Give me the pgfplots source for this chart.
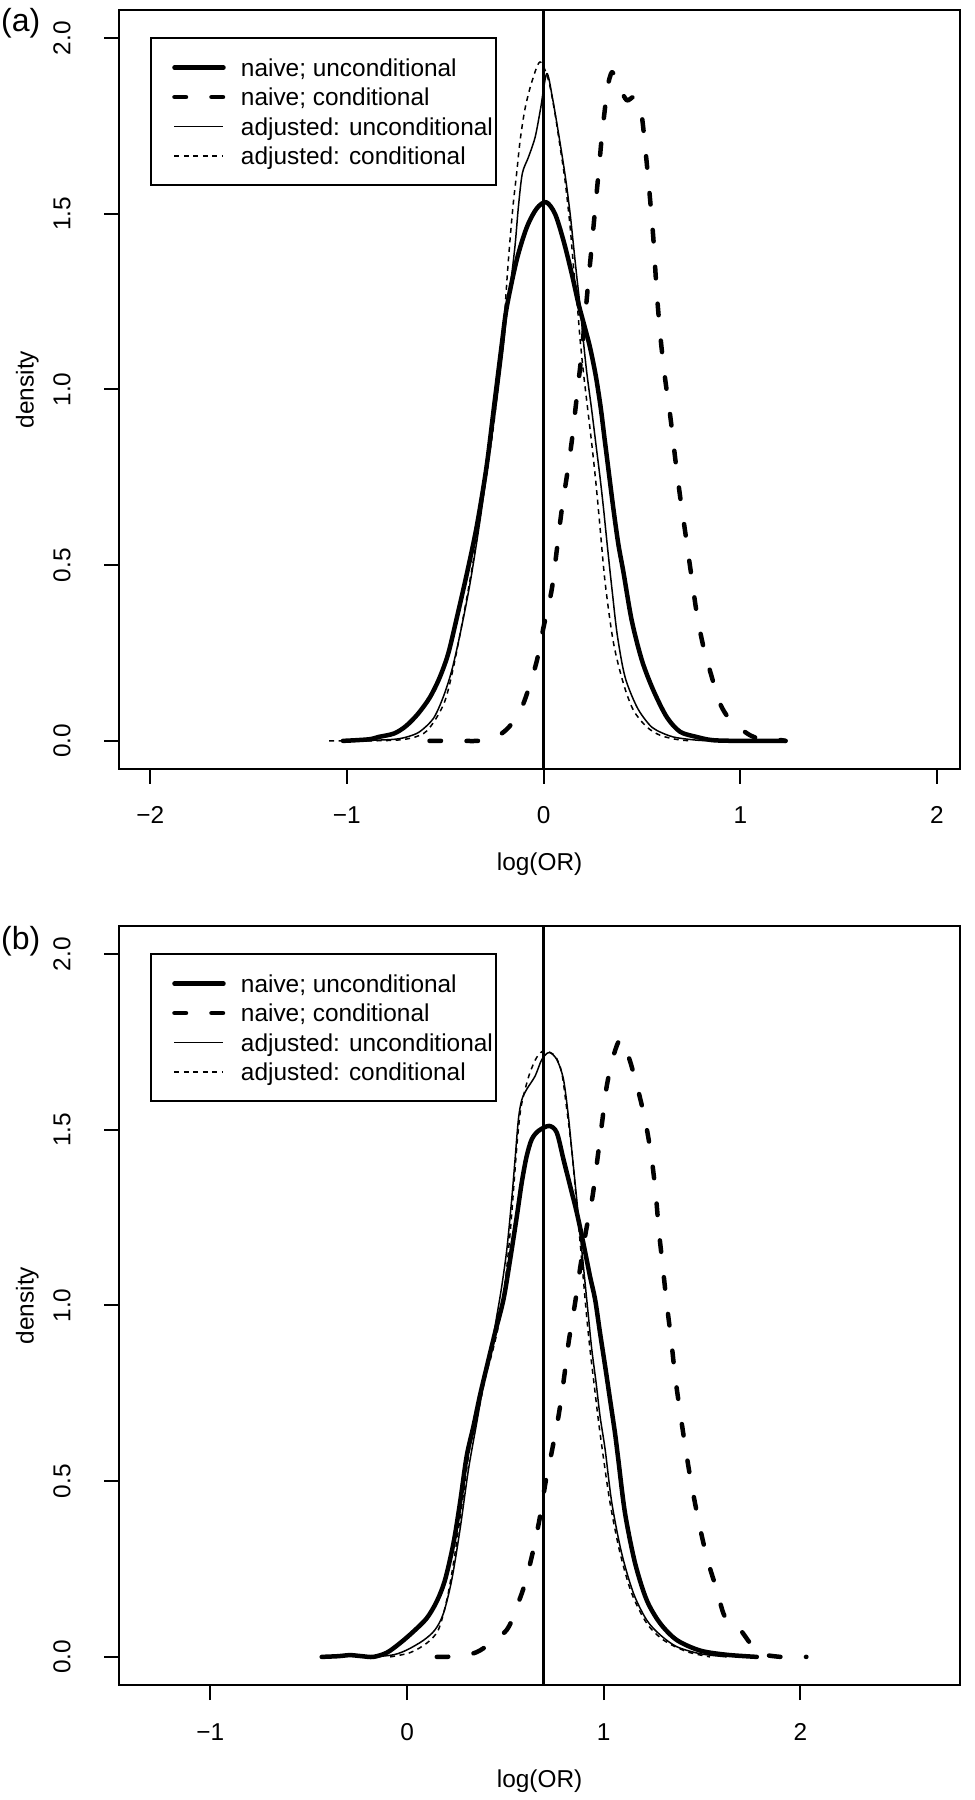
\documentclass[border=0pt]{standalone}
\usepackage{pgfplots}
\pgfplotsset{compat=1.18}
\usepackage{fontspec}
\setmainfont{Liberation Sans}
\newcommand{\lblfont}{\fontsize{24.4bp}{29.5bp}\selectfont}
\pgfplotsset{
  myaxis/.style={
    anchor=south west, scale only axis, width=840.7bp, height=759bp,
    ymin=-0.08, ymax=2.08,
    ytick={0,0.5,1,1.5,2}, yticklabels={0.0,0.5,1.0,1.5,2.0},
    tick align=outside, tick pos=left,
    major tick length=15bp,
    every tick/.style={line width=2bp, black},
    axis line style={line width=2bp, black},
    tick label style={font=\lblfont},
    xticklabel style={anchor=base, inner sep=0pt, yshift=-40bp},
    yticklabel style={xshift=-34bp, rotate=90, anchor=base, inner sep=0pt},
    xlabel={log(OR)}, ylabel={density},
    every axis x label/.style={at={(axis description cs:0.5,0)}, yshift=-102bp, anchor=base, inner sep=0pt, font=\lblfont},
    every axis y label/.style={at={(axis description cs:0,0.5)}, xshift=-85.7bp, rotate=90, anchor=base, inner sep=0pt, font=\lblfont},
    legend style={at={(0.0377,0.9627)}, anchor=north west, draw=black, line width=2bp,
      inner xsep=3bp, inner ysep=20.5bp, outer sep=0pt, row sep=12bp, column sep=15bp,
      nodes={inner sep=0pt, text height=17.5bp, text depth=0pt}, font=\lblfont},
    legend cell align=left,
    legend image code/.code={\path[draw=none, fill=none] (0bp,-1bp) rectangle (72bp,1bp); \draw[##1] (20.5bp,0bp) -- (69.5bp,0bp);},
  },
  thicksolid/.style={black, line width=4.5bp, line cap=round, line join=round, smooth, tension=0.5},
  thickdash/.style={black, line width=4.5bp, line cap=round, line join=round, dash pattern=on 11.5bp off 25.5bp, smooth, tension=0.5},
  thinsolid/.style={black, line width=1.5bp, line join=round, smooth, tension=0.5},
  thindash/.style={black, line width=1.5bp, dash pattern=on 5bp off 4.5bp, smooth, tension=0.5},
}
\begin{document}
\begin{tikzpicture}
\useasboundingbox (0,0) rectangle (975bp,1800bp);
% ---------------- panel (a) ----------------
\begin{axis}[myaxis, at={(119.3bp,1031bp)}, xmin=-2.157, xmax=2.117,
  xtick={-2,-1,0,1,2}, xticklabels={−2,−1,0,1,2}]
\addplot[thicksolid] coordinates {
(-1.02,0) (-0.95,0.002) (-0.88,0.005) (-0.84,0.011) (-0.76,0.021) (-0.70,0.042)
(-0.64,0.076) (-0.58,0.122) (-0.53,0.178) (-0.485,0.248) (-0.44,0.353) (-0.39,0.476)
(-0.34,0.61) (-0.29,0.78) (-0.25,0.96) (-0.21,1.14) (-0.187,1.235) (-0.136,1.37)
(-0.085,1.462) (-0.035,1.515) (0.013,1.533) (0.058,1.50) (0.101,1.424) (0.143,1.33)
(0.177,1.245) (0.208,1.18) (0.236,1.12) (0.265,1.04) (0.29,0.95) (0.31,0.86)
(0.328,0.78) (0.355,0.66) (0.38,0.56) (0.406,0.48) (0.448,0.343) (0.50,0.229)
(0.558,0.144) (0.626,0.068) (0.694,0.026) (0.78,0.011) (0.86,0.002) (1.0,0.0) (1.23,0.0)};
\addlegendentry{naive; unconditional}
\addplot[thickdash] coordinates {
(-0.58,0) (-0.45,0) (-0.33,0.0) (-0.27,0.006) (-0.213,0.021) (-0.162,0.049)
(-0.103,0.106) (-0.052,0.192) (-0.026,0.248) (0.0,0.324) (0.041,0.429) (0.067,0.542)
(0.092,0.656) (0.12,0.76) (0.145,0.86) (0.166,0.965) (0.19,1.085) (0.21,1.2)
(0.228,1.31) (0.245,1.41) (0.263,1.52) (0.28,1.62) (0.296,1.72) (0.31,1.79)
(0.325,1.86) (0.347,1.903) (0.37,1.88) (0.389,1.856) (0.423,1.823) (0.457,1.832)
(0.48,1.81) (0.499,1.78) (0.52,1.67) (0.54,1.55) (0.558,1.43) (0.575,1.28)
(0.595,1.145) (0.618,1.03) (0.645,0.92) (0.67,0.80) (0.693,0.70) (0.711,0.63)
(0.745,0.495) (0.779,0.362) (0.813,0.267) (0.855,0.182) (0.897,0.106) (0.948,0.059)
(1.0,0.035) (1.05,0.016) (1.1,0.006) (1.16,0.006) (1.23,0.0)};
\addlegendentry{naive; conditional}
\addplot[thinsolid] coordinates {
(-1.0,0) (-0.85,0.002) (-0.75,0.005) (-0.69,0.012) (-0.63,0.026) (-0.56,0.064)
(-0.51,0.125) (-0.467,0.2) (-0.424,0.305) (-0.374,0.448) (-0.323,0.628) (-0.28,0.80)
(-0.238,0.97) (-0.205,1.12) (-0.187,1.22) (-0.168,1.30) (-0.145,1.41) (-0.128,1.52)
(-0.108,1.615) (-0.077,1.661) (-0.043,1.718) (-0.015,1.80) (0.016,1.899) (0.045,1.83)
(0.08,1.715) (0.112,1.60) (0.135,1.50) (0.152,1.41) (0.169,1.32) (0.186,1.235)
(0.202,1.14) (0.22,1.046) (0.245,0.94) (0.267,0.84) (0.287,0.75) (0.305,0.66)
(0.325,0.55) (0.35,0.42) (0.375,0.30) (0.414,0.182) (0.474,0.097) (0.533,0.049)
(0.575,0.03) (0.66,0.011) (0.78,0.002) (0.87,0.0)};
\addlegendentry{adjusted: unconditional}
\addplot[thindash] coordinates {
(-1.09,0) (-0.88,0.0) (-0.71,0.004) (-0.61,0.021) (-0.552,0.059) (-0.5,0.116)
(-0.458,0.21) (-0.408,0.353) (-0.357,0.514) (-0.306,0.70) (-0.255,0.893) (-0.225,1.05)
(-0.2,1.20) (-0.184,1.33) (-0.17,1.43) (-0.154,1.53) (-0.136,1.62) (-0.119,1.71)
(-0.094,1.80) (-0.06,1.875) (-0.018,1.932) (0.025,1.88) (0.058,1.785) (0.084,1.69)
(0.109,1.595) (0.135,1.462) (0.155,1.33) (0.172,1.235) (0.186,1.14) (0.203,1.046)
(0.223,0.95) (0.245,0.845) (0.265,0.74) (0.285,0.62) (0.313,0.45) (0.355,0.28)
(0.406,0.163) (0.457,0.087) (0.524,0.04) (0.592,0.016) (0.677,0.004) (0.75,0.0)};
\addlegendentry{adjusted: conditional}
\addplot[black, line width=3.3bp, forget plot] coordinates {(0,-0.08) (0,2.08)};
\end{axis}
% ---------------- panel (b) ----------------
\begin{axis}[myaxis, at={(119.3bp,115bp)}, xmin=-1.463, xmax=2.811,
  xtick={-1,0,1,2}, xticklabels={−1,0,1,2}]
\addplot[thicksolid] coordinates {
(-0.434,0) (-0.35,0.002) (-0.29,0.005) (-0.23,0.002) (-0.171,0.0) (-0.103,0.012)
(-0.036,0.039) (0.032,0.072) (0.1,0.11) (0.151,0.158) (0.193,0.219) (0.236,0.324)
(0.269,0.438) (0.303,0.571) (0.337,0.655) (0.371,0.745) (0.405,0.825) (0.447,0.922)
(0.49,1.017) (0.524,1.131) (0.558,1.254) (0.583,1.35) (0.608,1.425) (0.634,1.473)
(0.668,1.497) (0.722,1.511) (0.761,1.492) (0.795,1.416) (0.829,1.34) (0.863,1.264)
(0.896,1.178) (0.93,1.083) (0.956,1.017) (0.981,0.922) (1.007,0.827) (1.032,0.732)
(1.057,0.637) (1.074,0.561) (1.108,0.409) (1.159,0.267) (1.218,0.162) (1.286,0.096)
(1.371,0.048) (1.49,0.018) (1.625,0.006) (1.778,0.0)};
\addlegendentry{naive; unconditional}
\addplot[thickdash] coordinates {
(0.151,0) (0.227,0.001) (0.337,0.01) (0.405,0.031) (0.507,0.077) (0.558,0.143)
(0.6,0.21) (0.642,0.305) (0.676,0.40) (0.705,0.50) (0.736,0.585) (0.771,0.689)
(0.798,0.794) (0.822,0.898) (0.853,1.003) (0.88,1.107) (0.909,1.21) (0.943,1.311)
(0.968,1.418) (0.993,1.528) (1.015,1.624) (1.049,1.71) (1.086,1.758) (1.125,1.71)
(1.168,1.627) (1.21,1.528) (1.242,1.424) (1.264,1.319) (1.28,1.214) (1.30,1.11)
(1.32,1.006) (1.343,0.901) (1.363,0.797) (1.388,0.697) (1.417,0.588) (1.443,0.50)
(1.47,0.42) (1.50,0.34) (1.532,0.267) (1.574,0.191) (1.608,0.124) (1.642,0.091)
(1.693,0.077) (1.744,0.039) (1.795,0.01) (1.9,0.0) (2.03,0.0)};
\addlegendentry{naive; conditional}
\addplot[thinsolid] coordinates {
(-0.171,0) (-0.069,0.006) (0.0,0.02) (0.083,0.047) (0.142,0.077) (0.185,0.124)
(0.227,0.219) (0.269,0.362) (0.312,0.533) (0.354,0.666) (0.39,0.78) (0.425,0.87)
(0.456,0.97) (0.48,1.05) (0.507,1.159) (0.532,1.302) (0.549,1.416) (0.566,1.53)
(0.583,1.585) (0.608,1.615) (0.651,1.653) (0.685,1.70) (0.722,1.72) (0.761,1.70)
(0.795,1.644) (0.82,1.539) (0.837,1.444) (0.854,1.35) (0.871,1.254) (0.888,1.159)
(0.905,1.064) (0.922,0.969) (0.939,0.875) (0.961,0.78) (0.981,0.685) (1.007,0.59)
(1.041,0.438) (1.091,0.295) (1.151,0.181) (1.218,0.105) (1.286,0.063) (1.371,0.029)
(1.49,0.009) (1.625,0.0)};
\addlegendentry{adjusted: unconditional}
\addplot[thindash] coordinates {
(-0.086,0) (0.015,0.012) (0.1,0.039) (0.159,0.077) (0.202,0.162) (0.236,0.267)
(0.278,0.428) (0.32,0.599) (0.363,0.70) (0.40,0.80) (0.43,0.86) (0.464,0.941)
(0.498,1.064) (0.524,1.207) (0.544,1.35) (0.561,1.473) (0.578,1.56) (0.6,1.615)
(0.625,1.663) (0.659,1.706) (0.697,1.725) (0.752,1.71) (0.786,1.663) (0.812,1.558)
(0.837,1.444) (0.854,1.34) (0.868,1.254) (0.883,1.159) (0.898,1.064) (0.913,0.969)
(0.93,0.875) (0.95,0.78) (0.97,0.685) (0.99,0.60) (1.032,0.438) (1.083,0.295)
(1.142,0.181) (1.218,0.096) (1.303,0.048) (1.422,0.015) (1.54,0.0)};
\addlegendentry{adjusted: conditional}
\addplot[black, line width=3.3bp, forget plot] coordinates {(0.6931,-0.08) (0.6931,2.08)};
\end{axis}
\node[anchor=base west, inner sep=0pt, font=\fontsize{32bp}{32bp}\selectfont] at (1bp,1768bp) {(a)};
\node[anchor=base west, inner sep=0pt, font=\fontsize{32bp}{32bp}\selectfont] at (1bp,850bp) {(b)};
\end{tikzpicture}
\end{document}
